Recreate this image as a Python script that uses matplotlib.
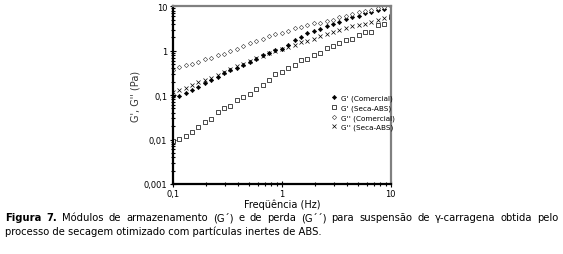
import matplotlib
matplotlib.use("Agg")
import matplotlib.pyplot as plt
from matplotlib.ticker import LogLocator, FixedLocator, NullFormatter

# frequencias (Hz)
freq = [0.100, 0.115, 0.131, 0.150, 0.172, 0.197, 0.225, 0.258, 0.296, 0.338,
        0.388, 0.444, 0.508, 0.582, 0.667, 0.763, 0.874, 1.00, 1.15, 1.31,
        1.50, 1.72, 1.97, 2.25, 2.58, 2.96, 3.38, 3.87, 4.44, 5.08,
        5.82, 6.66, 7.63, 8.73, 10.0]

# G' comercial
g1_com = [0.0933, 0.0977, 0.110, 0.129, 0.155, 0.186, 0.214, 0.257, 0.316, 0.363,
          0.417, 0.490, 0.562, 0.646, 0.794, 0.912, 1.02, 1.12, 1.38, 1.78,
          2.09, 2.51, 2.82, 3.16, 3.63, 3.98, 4.47, 5.13, 5.62, 6.17,
          6.92, 7.41, 8.13, 8.91, 10.0]

# G' seca-ABS
g1_abs = [0.0091, 0.0102, 0.0123, 0.0151, 0.0195, 0.0251, 0.0295, 0.0417, 0.0513, 0.0562,
          0.0759, 0.0891, 0.107, 0.135, 0.170, 0.224, 0.302, 0.339, 0.417, 0.468,
          0.617, 0.661, 0.794, 0.912, 1.17, 1.29, 1.48, 1.74, 1.82, 2.29,
          2.63, 2.69, 3.80, 3.98, 5.62]

# G'' comercial
g2_com = [0.37, 0.43, 0.47, 0.51, 0.57, 0.64, 0.70, 0.80, 0.86, 0.99,
          1.12, 1.28, 1.48, 1.68, 1.88, 2.13, 2.36, 2.53, 2.81, 3.23,
          3.45, 3.84, 4.12, 4.30, 4.65, 4.98, 5.64, 6.12, 6.70, 7.31,
          7.94, 8.37, 9.02, 9.48, 10.0]

# G'' seca-ABS
g2_abs = [0.120, 0.132, 0.148, 0.170, 0.195, 0.219, 0.245, 0.288, 0.339, 0.389,
          0.447, 0.513, 0.589, 0.676, 0.776, 0.891, 1.00, 1.10, 1.23, 1.38,
          1.55, 1.70, 1.86, 2.14, 2.40, 2.69, 2.95, 3.31, 3.55, 3.80,
          4.07, 4.37, 4.90, 5.50, 6.17]

labels = ["G' (Comercial)", "G' (Seca-ABS)", "G'' (Comercial)", "G'' (Seca-ABS)"]

plt.rcParams['font.family'] = ['DejaVu Sans']

fig = plt.figure(figsize=(5.63, 2.55), dpi=100)
ax = fig.add_axes([0.307, 0.275, 0.387, 0.696])

ax.plot(freq, g1_com, ls='none', marker='D', ms=2.2, mfc='black', mec='black', mew=0.4,
        label=labels[0])
ax.plot(freq, g1_abs, ls='none', marker='s', ms=2.9, mfc='white', mec='black', mew=0.5,
        label=labels[1])
ax.plot(freq, g2_com, ls='none', marker='D', ms=2.2, mfc='white', mec='#333333', mew=0.4,
        label=labels[2])
ax.plot(freq, g2_abs, ls='none', marker='x', ms=2.6, mec='black', mew=0.5,
        label=labels[3])

ax.set_xscale('log')
ax.set_yscale('log')
ax.set_xlim(0.1, 10)
ax.set_ylim(0.001, 10)

ax.xaxis.set_major_locator(FixedLocator([0.1, 1, 10]))
ax.set_xticklabels(['0,1', '1', '10'])
ax.yaxis.set_major_locator(FixedLocator([0.001, 0.01, 0.1, 1, 10]))
ax.set_yticklabels(['0,001', '0,01', '0,1', '1', '10'])
ax.xaxis.set_minor_locator(LogLocator(base=10, subs=range(2, 10)))
ax.yaxis.set_minor_locator(LogLocator(base=10, subs=range(2, 10)))
ax.xaxis.set_minor_formatter(NullFormatter())
ax.yaxis.set_minor_formatter(NullFormatter())

ax.tick_params(which='both', direction='inout', labelsize=6, pad=2, width=0.8)
ax.tick_params(which='major', length=4)
ax.tick_params(which='minor', length=3)

for side in ['left', 'bottom']:
    ax.spines[side].set_linewidth(1.6)
    ax.spines[side].set_color('black')
for side in ['top', 'right']:
    ax.spines[side].set_linewidth(1.6)
    ax.spines[side].set_color('#808080')

ax.set_xlabel('Freqüência (Hz)', fontsize=7, labelpad=0)
ax.set_ylabel("G', G'' (Pa)", fontsize=7, labelpad=2, color='#333333')

ax.legend(loc='upper left', bbox_to_anchor=(0.71, 0.52), frameon=False, fontsize=5.2,
          handlelength=1.0, handletextpad=0.4, labelspacing=0.45, borderaxespad=0)

# legenda da figura (texto justificado na primeira linha)
fig.canvas.draw()
renderer = fig.canvas.get_renderer()
fs = 7.2
x0, x1 = 5 / 563, 558 / 563
y_l1, y_l2 = 1 - 218 / 255, 1 - 232 / 255

words = [("Figura", 'bold'), ("7.", 'bold'), ("Módulos", 'normal'), ("de", 'normal'),
         ("armazenamento", 'normal'), ("(G´)", 'normal'), ("e", 'normal'), ("de", 'normal'),
         ("perda", 'normal'), ("(G´´)", 'normal'), ("para", 'normal'), ("suspensão", 'normal'),
         ("de", 'normal'), ("γ-carragena", 'normal'), ("obtida", 'normal'), ("pelo", 'normal')]
texts = []
total = 0
for w, weight in words:
    t = fig.text(x0, y_l1, w, fontsize=fs, fontweight=weight, va='center', ha='left')
    wd = t.get_window_extent(renderer).width / fig.bbox.width
    texts.append((t, wd))
    total += wd
gap = (x1 - x0 - total) / (len(words) - 1)
xpos = x0
for t, wd in texts:
    t.set_x(xpos)
    xpos += wd + gap

fig.text(x0, y_l2, "processo de secagem otimizado com partículas inertes de ABS.",
         fontsize=fs, va='center', ha='left')

fig.savefig('out.png', dpi=100)
